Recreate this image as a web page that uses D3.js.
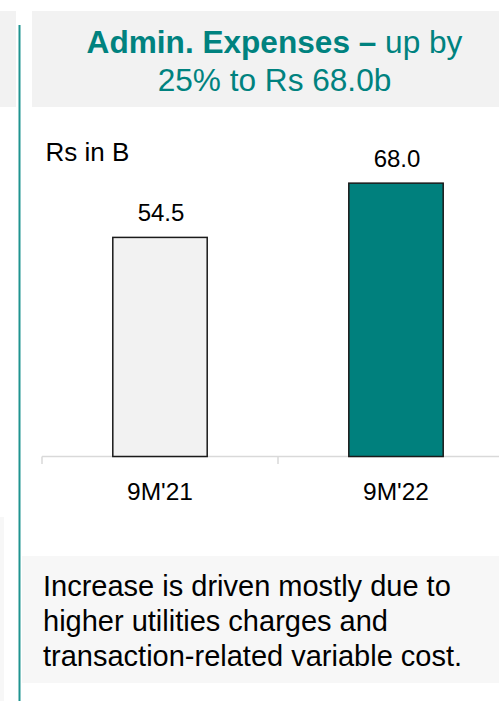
<!DOCTYPE html>
<html>
<head>
<meta charset="utf-8">
<script src="https://cdn.jsdelivr.net/npm/d3@7"></script>
<style>
  html, body { margin: 0; padding: 0; background: #ffffff; }
  svg { display: block; }
  text { font-family: "Liberation Sans", Arial, Helvetica, sans-serif; }
</style>
</head>
<body>
<div id="chart"></div>
<script>
// Admin expenses, Rs billions
const categories = ["9M'21", "9M'22"];
const values = [54.5, 68.0];
const barFills = ["#f2f2f2", "#00807d"];
const unitLabel = "Rs in B";
const titleBold = "Admin. Expenses \u2013";
const titleRest = " up by";
const titleLine2 = "25% to Rs 68.0b";
const noteLines = [
  "Increase is driven mostly due to",
  "higher utilities charges and",
  "transaction-related variable cost."
];

const W = 499, H = 701;
const teal = "#00827f";

const svg = d3.select("#chart").append("svg")
  .attr("width", W).attr("height", H);

// Side panels and divider
svg.append("rect").attr("x", 0).attr("y", 11).attr("width", 16).attr("height", 96).attr("fill", "#f2f2f2");
svg.append("rect").attr("x", 0).attr("y", 517).attr("width", 4).attr("height", H - 517).attr("fill", "#f7f7f7");
svg.append("line").attr("x1", 19.5).attr("x2", 19.5).attr("y1", 25).attr("y2", H)
  .attr("stroke", "#1f9490").attr("stroke-width", 2);

// Title panel
svg.append("rect").attr("x", 32).attr("y", 11).attr("width", W - 32).attr("height", 96).attr("fill", "#f2f2f2");
const t1 = svg.append("text").attr("x", 274.5).attr("y", 52.7)
  .attr("text-anchor", "middle").attr("font-size", 31.6).attr("fill", teal);
t1.append("tspan").attr("font-weight", "bold").text(titleBold);
t1.append("tspan").text(titleRest);
svg.append("text").attr("x", 274.5).attr("y", 90.7)
  .attr("text-anchor", "middle").attr("font-size", 31.6).attr("fill", teal)
  .text(titleLine2);

// Scales
const x = d3.scaleBand().domain(categories).range([42, 514])
  .paddingInner(0.6).paddingOuter(0.3);
const y = d3.scaleLinear().domain([0, 80]).range([456.5, 456.5 - 80 * 4.02]);

// Unit label
svg.append("text").attr("x", 45.5).attr("y", 160.7)
  .attr("font-size", 26).attr("fill", "#000").text(unitLabel);

// Baseline with band-boundary ticks
const step = x.step();
const bounds = categories.map(c => x(c) - step * x.paddingInner() / 2)
  .concat([x(categories[categories.length - 1]) + x.bandwidth() + step * x.paddingInner() / 2]);
const axisG = svg.append("g");
axisG.append("line").attr("x1", bounds[0]).attr("x2", bounds[bounds.length - 1])
  .attr("y1", y(0)).attr("y2", y(0)).attr("stroke", "#d9d9d9").attr("stroke-width", 1.5);
axisG.selectAll("line.tick").data(bounds).join("line").attr("class", "tick")
  .attr("x1", d => d).attr("x2", d => d).attr("y1", y(0)).attr("y2", y(0) + 7.5)
  .attr("stroke", "#d9d9d9").attr("stroke-width", 1.5);

// Category labels via axis
const xAxis = d3.axisBottom(x).tickSize(0).tickPadding(0);
const ag = svg.append("g").attr("transform", `translate(0,${y(0)})`).call(xAxis);
ag.select(".domain").remove();
ag.selectAll("text").attr("font-size", 24.5).attr("fill", "#000")
  .attr("font-family", "'Liberation Sans', Arial, sans-serif")
  .attr("dy", null).attr("y", 500 - y(0));

// Bars
const data = categories.map((c, i) => ({ c, v: values[i], fill: barFills[i] }));
svg.selectAll("rect.bar").data(data).join("rect").attr("class", "bar")
  .attr("x", d => x(d.c)).attr("width", x.bandwidth())
  .attr("y", d => y(d.v)).attr("height", d => y(0) - y(d.v))
  .attr("fill", d => d.fill).attr("stroke", "#1a1a1a").attr("stroke-width", 1.5);

// Value labels
svg.selectAll("text.val").data(data).join("text").attr("class", "val")
  .attr("x", d => x(d.c) + x.bandwidth() / 2 + 1).attr("y", d => y(d.v) - 16.6)
  .attr("text-anchor", "middle").attr("font-size", 24).attr("fill", "#000")
  .text(d => d.v.toFixed(1));

// Note panel
svg.append("rect").attr("x", 22).attr("y", 556).attr("width", W - 22).attr("height", 127).attr("fill", "#f7f7f7");
svg.append("text").attr("font-size", 29).attr("fill", "#000")
  .selectAll("tspan").data(noteLines).join("tspan")
  .attr("x", 43).attr("y", (d, i) => 596 + i * 35).text(d => d);
</script>
</body>
</html>
